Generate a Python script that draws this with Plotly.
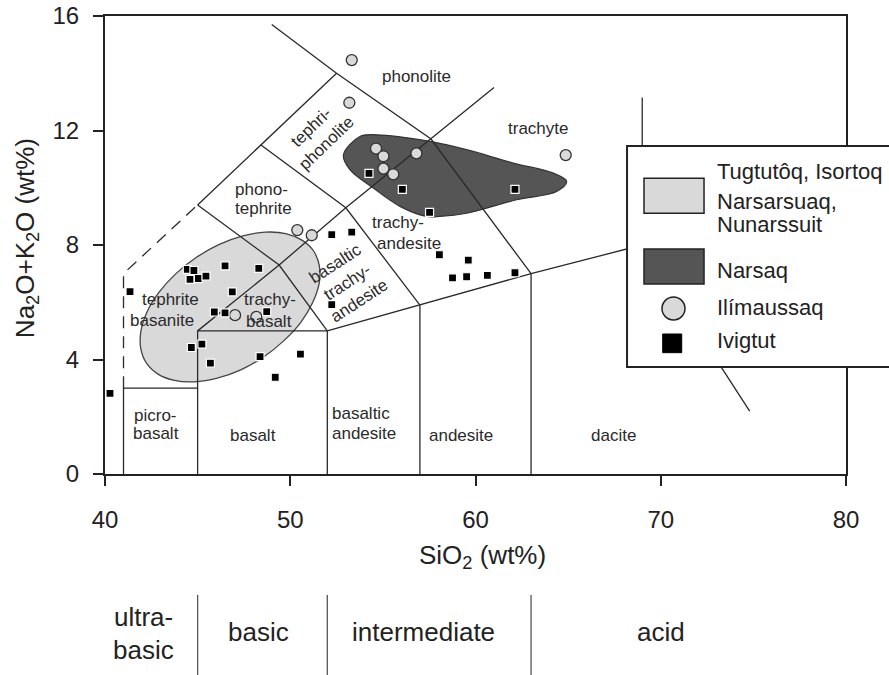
import plotly.graph_objects as go

# ---------------- data ----------------
# TAS field boundaries (SiO2, Na2O+K2O), solid
BOUND_SOLID = [
    ([41, 41, 45], [0, 3, 3]),
    ([45, 45, 52, 52], [0, 5, 5, 0]),
    ([52, 57, 63, 69], [5, 5.9, 7, 8]),
    ([57, 57], [0, 5.9]),
    ([63, 63], [0, 7]),
    ([69, 74.8], [8, 2.2]),
    ([69, 69], [8, 13.15]),
    ([45, 49.4, 53, 57.6, 61], [5, 7.3, 9.3, 11.7, 13.5]),
    ([45, 49.4, 52], [9.4, 7.3, 5]),
    ([45, 48.4, 52.5], [9.4, 11.5, 14]),
    ([48.4, 53, 57], [11.5, 9.3, 5.9]),
    ([49.0, 52.5, 57.6, 63], [15.7, 14, 11.7, 7]),
]
BOUND_DASHED_X = [41, 41, 45]
BOUND_DASHED_Y = [3, 7, 9.4]

# Tugtutoq / Isortoq / Narsarsuaq / Nunarssuit field (outline)
FIELD_LIGHT_X = [51.26, 50.63, 49.75, 48.66, 47.44, 46.17, 44.94, 43.83, 42.93, 42.28, 41.94, 41.93,
                 42.24, 42.86, 43.75, 44.84, 46.06, 47.33, 48.56, 49.66, 50.57, 51.21, 51.56, 51.57, 51.26]
FIELD_LIGHT_Y = [7.79, 8.17, 8.40, 8.45, 8.32, 8.02, 7.57, 7.00, 6.36, 5.68, 5.00, 4.39,
                 3.87, 3.49, 3.27, 3.22, 3.35, 3.64, 4.09, 4.66, 5.30, 5.99, 6.66, 7.27, 7.79]

# Narsaq field (outline)
FIELD_DARK_X = [52.87, 53.76, 54.66, 57.54, 59.52, 62.04, 64.2, 64.92, 64.38, 62.22, 59.52, 58.08,
                57.36, 55.92, 54.48, 53.22, 52.87]
FIELD_DARK_Y = [11.15, 11.79, 11.85, 11.62, 11.33, 10.86, 10.51, 10.22, 9.87, 9.58, 9.11, 9.0,
                9.0, 9.35, 9.99, 10.63, 11.15]

# Ilimaussaq samples
ILI_X = [53.32, 53.19, 54.63, 55.03, 55.03, 55.56, 56.81, 64.87, 50.38, 51.16, 47.02, 48.17]
ILI_Y = [14.46, 12.97, 11.37, 11.10, 10.67, 10.47, 11.20, 11.14, 8.52, 8.34, 5.55, 5.49]

# Ivigtut samples
IVI_X = [54.25, 56.05, 62.13, 57.52, 52.24, 53.32, 58.05, 59.61, 58.76, 59.52, 60.64, 62.13,
         52.24, 50.55, 40.27, 41.35, 44.44, 44.80, 44.59, 45.04, 45.45, 46.48, 48.30, 46.87,
         45.90, 46.48, 48.73, 44.66, 45.23, 45.69, 48.37, 49.19]
IVI_Y = [10.50, 9.94, 9.94, 9.14, 8.36, 8.45, 7.66, 7.47, 6.85, 6.89, 6.94, 7.03,
         5.92, 4.19, 2.82, 6.37, 7.15, 7.11, 6.80, 6.83, 6.91, 7.27, 7.18, 6.36,
         5.66, 5.63, 5.67, 4.42, 4.54, 3.87, 4.10, 3.38]

# field names: (text, x, y, angle)
FIELD_LABELS = [
    ("picro-", 42.73, 2.06, 0), ("basalt", 42.73, 1.42, 0),
    ("basalt", 48.01, 1.36, 0),
    ("basaltic", 53.82, 2.12, 0), ("andesite", 54.0, 1.42, 0),
    ("andesite", 59.22, 1.36, 0),
    ("dacite", 67.44, 1.36, 0),
    ("tephrite", 43.51, 6.10, 0), ("basanite", 43.06, 5.38, 0),
    ("trachy-", 48.91, 6.10, 0), ("basalt", 48.87, 5.32, 0),
    ("phono-", 48.46, 9.95, 0), ("tephrite", 48.55, 9.28, 0),
    ("trachy-", 55.83, 8.78, 0), ("andesite", 56.41, 8.06, 0),
    ("phonolite", 56.79, 13.87, 0),
    ("trachyte", 63.39, 12.07, 0),
    ("tephri-<br>phonolite", 51.51, 11.84, -44),
    ("basaltic<br>trachy-<br>andesite", 53.05, 6.70, -33),
]

X_TICKS = [40, 50, 60, 70, 80]
Y_TICKS = [0, 4, 8, 12, 16]

SILICA_BOUNDS = [45, 52, 63]
SILICA_CLASSES = [("ultra-", 42.1, -0.312), ("basic", 42.1, -0.384), ("basic", 48.3, -0.345),
                  ("intermediate", 57.2, -0.345), ("acid", 70.0, -0.345)]

LEGEND_LABELS = [("Tugtutôq, Isortoq", 0.660), ("Narsarsuaq,", 0.595), ("Nunarssuit", 0.544),
                 ("Narsaq", 0.444), ("Ilímaussaq", 0.364), ("Ivigtut", 0.291)]

FONT = "Liberation Sans, Arial, sans-serif"
INK = "#222222"

# ---------------- figure ----------------
fig = go.Figure()

fig.add_trace(go.Scatter(x=FIELD_LIGHT_X, y=FIELD_LIGHT_Y, mode="lines", fill="toself",
                         fillcolor="#d9d9d9", line=dict(color="#444444", width=1.3, shape="spline", smoothing=1.0),
                         hoverinfo="skip", showlegend=False))
fig.add_trace(go.Scatter(x=FIELD_DARK_X, y=FIELD_DARK_Y, mode="lines", fill="toself",
                         fillcolor="#555555", line=dict(color="#333333", width=1.2, shape="spline", smoothing=1.0),
                         hoverinfo="skip", showlegend=False))

bx, by = [], []
for xs, ys in BOUND_SOLID:
    bx += list(xs) + [None]
    by += list(ys) + [None]
fig.add_trace(go.Scatter(x=bx, y=by, mode="lines", line=dict(color="#2a2a2a", width=1.3),
                         hoverinfo="skip", showlegend=False))
fig.add_trace(go.Scatter(x=BOUND_DASHED_X, y=BOUND_DASHED_Y, mode="lines",
                         line=dict(color="#2a2a2a", width=1.3, dash="12px,8px"),
                         hoverinfo="skip", showlegend=False))

fig.add_trace(go.Scatter(x=ILI_X, y=ILI_Y, mode="markers", cliponaxis=False,
                         marker=dict(symbol="circle", size=11, color="#d9d9d9",
                                     line=dict(color="#333333", width=1.3)),
                         showlegend=False))
fig.add_trace(go.Scatter(x=IVI_X, y=IVI_Y, mode="markers", cliponaxis=False,
                         marker=dict(symbol="square", size=8, color="#000000",
                                     line=dict(color="#ffffff", width=1.2)),
                         showlegend=False))

ann = []
for text, x, y, ang in FIELD_LABELS:
    ann.append(dict(x=x, y=y, xref="x", yref="y", text=text, showarrow=False, textangle=ang,
                    xanchor="center", yanchor="middle",
                    font=dict(family=FONT, size=17, color="#2a2a2a"), align="center"))

ann.append(dict(x=-0.1066, y=0.515, xref="paper", yref="paper", showarrow=False, textangle=-90,
                xanchor="center", yanchor="middle",
                text="Na<sub>2</sub>O+K<sub>2</sub>O (wt%)", font=dict(family=FONT, size=26, color=INK)))
ann.append(dict(x=0.510, y=-0.181, xref="paper", yref="paper", showarrow=False,
                xanchor="center", yanchor="middle",
                text="SiO<sub>2</sub> (wt%)", font=dict(family=FONT, size=26, color=INK)))

for text, x, y in SILICA_CLASSES:
    ann.append(dict(x=x, y=y, xref="x", yref="paper", showarrow=False, text=text,
                    xanchor="center", yanchor="middle",
                    font=dict(family=FONT, size=26, color=INK)))

for text, y in LEGEND_LABELS:
    ann.append(dict(x=0.8232, y=y, xref="paper", yref="paper", showarrow=False, text=text,
                    xanchor="left", yanchor="middle", font=dict(family=FONT, size=22, color=INK)))

shapes = []
for sx in SILICA_BOUNDS:
    shapes.append(dict(type="line", xref="x", yref="paper", x0=sx, x1=sx, y0=-0.264, y1=-0.44,
                       line=dict(color="#555555", width=1.3)))

# legend box (drawn above the plot)
shapes.append(dict(type="rect", xref="paper", yref="paper", x0=0.7045, x1=1.12, y0=0.2336, y1=0.7162,
                   fillcolor="#ffffff", line=dict(color=INK, width=2), layer="above"))
shapes.append(dict(type="rect", xref="paper", yref="paper", x0=0.7274, x1=0.8084, y0=0.5692, y1=0.6456,
                   fillcolor="#d9d9d9", line=dict(color=INK, width=1.5), layer="above"))
shapes.append(dict(type="rect", xref="paper", yref="paper", x0=0.7274, x1=0.8084, y0=0.4148, y1=0.4913,
                   fillcolor="#555555", line=dict(color=INK, width=1.5), layer="above"))
shapes.append(dict(type="circle", xref="paper", yref="paper", x0=0.7517, x1=0.7827, y0=0.3362, y1=0.3865,
                   fillcolor="#d9d9d9", line=dict(color=INK, width=1.5), layer="above"))
shapes.append(dict(type="rect", xref="paper", yref="paper", x0=0.7526, x1=0.7783, y0=0.2649, y1=0.3057,
                   fillcolor="#000000", line=dict(color="#000000", width=1), layer="above"))

axis_common = dict(showline=True, linecolor=INK, linewidth=2, mirror=True, ticks="outside",
                   ticklen=10, tickwidth=1.5, tickcolor=INK, showgrid=False, zeroline=False,
                   automargin=False, tickfont=dict(family=FONT, size=24, color=INK))

fig.update_layout(
    template="none",
    width=889, height=675,
    margin=dict(l=105, r=43, t=16, b=201, autoexpand=False),
    paper_bgcolor="#ffffff", plot_bgcolor="#ffffff",
    xaxis=dict(range=[40, 80], tickvals=X_TICKS, ticklabelstandoff=13, **axis_common),
    yaxis=dict(range=[0, 16], tickvals=Y_TICKS, ticklabelstandoff=9, **axis_common),
    annotations=ann, shapes=shapes, showlegend=False,
)

fig.write_html("out.html")
